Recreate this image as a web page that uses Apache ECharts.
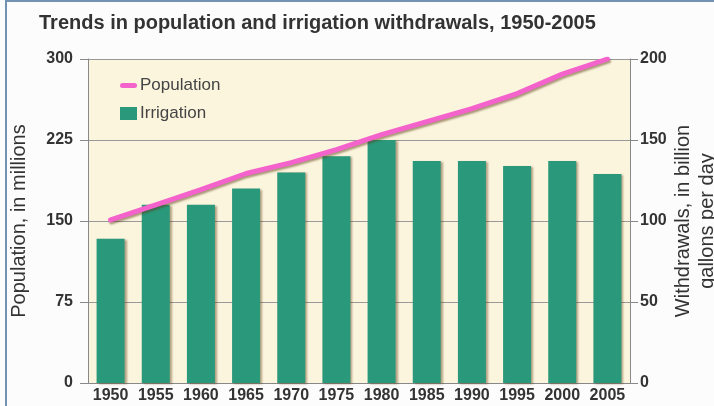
<!DOCTYPE html>
<html>
<head>
<meta charset="utf-8">
<script src="https://cdn.jsdelivr.net/npm/echarts@6/dist/echarts.min.js"></script>
<style>
  html, body { margin: 0; padding: 0; background: #fcfcfc; }
  #wrap { position: relative; width: 714px; height: 406px; overflow: hidden; }
  #main { width: 714px; height: 406px; }
  #frame { position: absolute; left: 5px; top: 0; right: -4px; bottom: -4px;
           border-left: 2px solid #7391b3; border-top: 2px solid #7391b3; pointer-events: none; }
</style>
</head>
<body>
<div id="wrap">
  <div id="main"></div>
  <div id="frame"></div>
</div>
<script>
// data
var years = ['1950', '1955', '1960', '1965', '1970', '1975', '1980', '1985', '1990', '1995', '2000', '2005'];
var population = [151, 165, 179, 194, 204, 216, 230, 242, 254, 268, 286, 300];   // millions
var irrigation = [89, 110, 110, 120, 130, 140, 150, 137, 137, 134, 137, 129];    // billion gal/day

var chart = echarts.init(document.getElementById('main'));

var labelFont = { color: '#333', fontWeight: 'bold', fontSize: 16, fontFamily: 'Liberation Sans, Arial, sans-serif' };

chart.setOption({
    backgroundColor: '#fcfcfc',
    animation: false,
    textStyle: { fontFamily: 'Liberation Sans, Arial, sans-serif' },
    title: {
        text: 'Trends in population and irrigation withdrawals, 1950-2005',
        left: 34,
        top: 8,
        textStyle: { color: '#333', fontSize: 20, fontWeight: 'bold' }
    },
    legend: {
        orient: 'vertical',
        left: 115,
        top: 72,
        itemWidth: 17,
        itemHeight: 13,
        itemGap: 11,
        textStyle: { color: '#444', fontSize: 17, padding: [0, 0, 0, -2] },
        data: [
            { name: 'Population', icon: 'path://M2.5,0 L14.5,0 A2.5,2.5 0 0 1 14.5,5 L2.5,5 A2.5,2.5 0 0 1 2.5,0 Z' },
            { name: 'Irrigation', icon: 'rect' }
        ]
    },
    grid: {
        left: 88, right: 84, top: 59, bottom: 23,
        outerBoundsMode: 'none',
        show: true,
        backgroundColor: '#fcf5de',
        borderWidth: 0
    },
    xAxis: {
        type: 'category',
        data: years,
        axisLine: { lineStyle: { color: '#888' } },
        axisTick: { show: false },
        axisLabel: Object.assign({ margin: 5, interval: 0 }, labelFont)
    },
    yAxis: [
        {
            type: 'value',
            min: 0, max: 300, interval: 75,
            name: 'Population, in millions',
            nameLocation: 'middle',
            nameGap: 59,
            nameRotate: 90,
            nameMoveOverlap: false,
            nameTextStyle: { color: '#333', fontSize: 20 },
            axisLine: { show: true, lineStyle: { color: '#888' } },
            axisTick: { show: true, length: 8, lineStyle: { color: '#888' } },
            axisLabel: Object.assign({ margin: 15 }, labelFont),
            splitLine: { lineStyle: { color: '#999' } }
        },
        {
            type: 'value',
            position: 'right',
            min: 0, max: 200, interval: 50,
            name: 'Withdrawals, in billion\ngallons per day',
            nameLocation: 'middle',
            nameGap: 41,
            nameRotate: 90,
            nameMoveOverlap: false,
            nameTextStyle: { color: '#333', fontSize: 20, lineHeight: 24 },
            axisLine: { show: true, lineStyle: { color: '#888' } },
            axisTick: { show: true, length: 8, lineStyle: { color: '#888' } },
            axisLabel: Object.assign({ margin: 10 }, labelFont),
            splitLine: { show: false }
        }
    ],
    series: [
        {
            name: 'Irrigation',
            type: 'bar',
            yAxisIndex: 1,
            data: irrigation,
            barWidth: 28,
            itemStyle: {
                color: '#2a987a',
                shadowColor: 'rgba(90,60,20,0.45)',
                shadowBlur: 2,
                shadowOffsetX: 2,
                shadowOffsetY: 1
            }
        },
        {
            name: 'Population',
            type: 'line',
            yAxisIndex: 0,
            data: population,
            symbol: 'none',
            showSymbol: false,
            z: 5,
            lineStyle: {
                color: '#f462cc',
                width: 5,
                cap: 'round',
                shadowColor: 'rgba(90,60,20,0.5)',
                shadowBlur: 2,
                shadowOffsetX: 1,
                shadowOffsetY: 2
            },
            itemStyle: { color: '#f462cc' }
        }
    ]
});
</script>
</body>
</html>
